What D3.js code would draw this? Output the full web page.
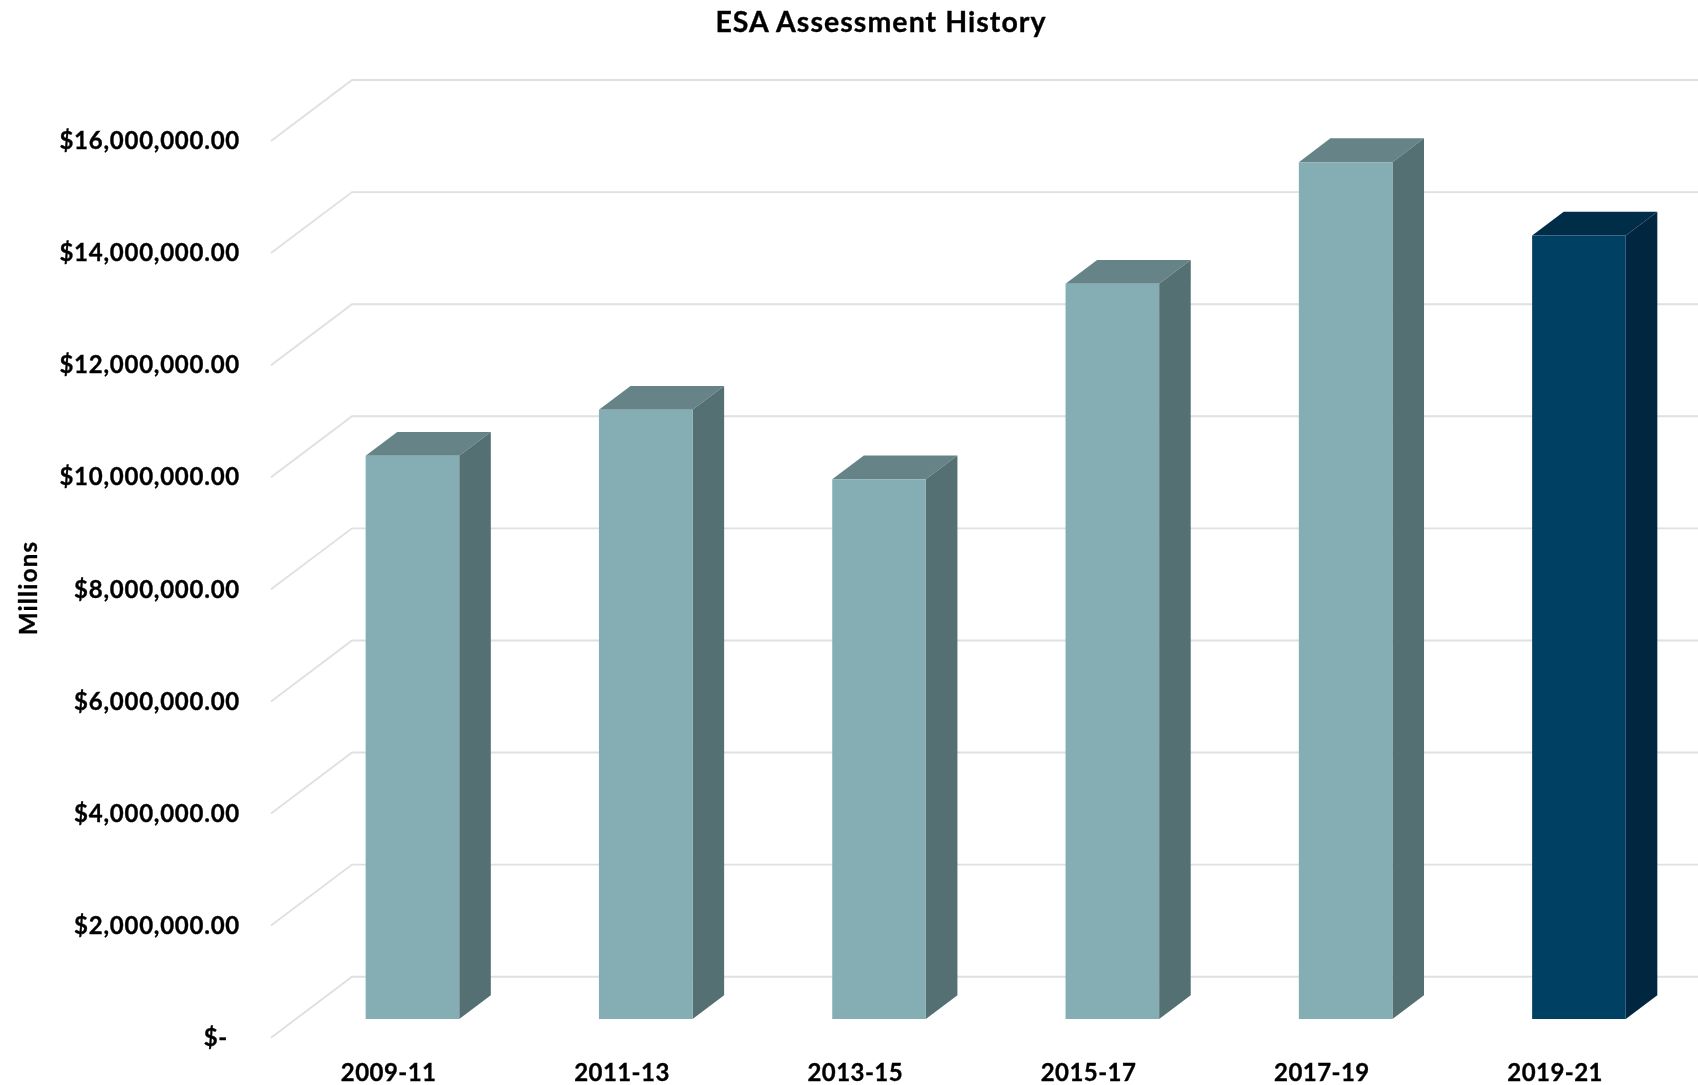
<!DOCTYPE html>
<html><head><meta charset="utf-8">
<script src="https://cdn.jsdelivr.net/npm/d3@7"></script>
<style>html,body{margin:0;background:#fff}svg{display:block}text{font-family:Lato,sans-serif;font-weight:700;fill:#050505;stroke:#050505;stroke-width:.35px}</style>
</head><body><svg id="c" width="1698" height="1085"></svg>
<script>
const categories = ["2009-11","2011-13","2013-15","2015-17","2017-19","2019-21"];
const values = [10050000,10870000,9630000,13120000,15290000,13980000];
const faceColors = ["#85aeb4","#85aeb4","#85aeb4","#85aeb4","#85aeb4","#023f63"];
const topColors = ["#668387","#668387","#668387","#668387","#668387","#012f4a"];
const sideColors = ["#557073","#557073","#557073","#557073","#557073","#01283f"];
const yTicks = [0,2000000,4000000,6000000,8000000,10000000,12000000,14000000,16000000];
const title = "ESA Assessment History";
const yTitle = "Millions";

const depthX = 81, depthY = 61, barFront = 0.306, barBack = 0.696;
const svg = d3.select("#c");
svg.append("defs").append("filter").attr("id","soft").attr("x","-2%").attr("y","-2%").attr("width","104%").attr("height","104%")
  .append("feGaussianBlur").attr("stdDeviation",0.55);
const root = svg.append("g").attr("filter","url(#soft)");
root.append("rect").attr("width",1698).attr("height",1085).attr("fill","#fff");
const x = d3.scaleBand().domain(categories).range([271, 271+233.3*6]).paddingInner(0).paddingOuter(0);
const y = d3.scaleLinear().domain([0,16000000]).range([1037.7,141]);
const barW = 93.6;
const proj = (px,py,d)=>[px+depthX*d, py-depthY*d];

// walls
const grid = root.append("g").attr("fill","none").attr("stroke","#e0e0e0").attr("stroke-width",1.9);
yTicks.forEach(v=>{
  const a=[x.range()[0],y(v)], b=proj(a[0],a[1],1);
  grid.append("path").attr("d",d3.line()([a,b,[1720,b[1]]]));
});

// bars
const bars = root.append("g").selectAll("g").data(categories).join("g");
bars.each(function(c,i){
  const g=d3.select(this), cx=x(c)+x.bandwidth()/2, l=cx-barW/2, r=cx+barW/2, t=y(values[i]), b=y(0);
  const f=proj;
  const poly=(pts,col)=>g.append("path").attr("d",d3.line()(pts)+"Z").attr("fill",col);
  poly([f(l,t,barFront),f(r,t,barFront),f(r,t,barBack),f(l,t,barBack)],topColors[i]);
  poly([f(r,t,barFront),f(r,b,barFront),f(r,b,barBack),f(r,t,barBack)],sideColors[i]);
  poly([f(l,t,barFront),f(r,t,barFront),f(r,b,barFront),f(l,b,barFront)],faceColors[i]);
});

// axes
const fmt=v=>v===0?"$-":"$"+d3.format(",.2f")(v);
const ya=root.append("g").attr("transform","translate(240,0)")
  .call(d3.axisLeft(y).tickValues(yTicks).tickFormat(fmt).tickSize(0).tickPadding(0));
ya.select(".domain").remove();
ya.selectAll("text").attr("font-size",24).style("font-family","Lato").style("letter-spacing","0.75px").attr("dx",d=>d===0?-12:0);
const xa=root.append("g").attr("transform","translate(1,1071.5)")
  .call(d3.axisBottom(x).tickSize(0).tickPadding(0));
xa.select(".domain").remove();
xa.selectAll("text").attr("font-size",24).style("font-family","Lato").style("letter-spacing","0.45px").attr("dy",0).attr("dominant-baseline","central");

root.append("text").attr("x",881).attr("y",20.5).attr("text-anchor","middle").attr("dominant-baseline","central").attr("font-size",28.5).style("letter-spacing","1.05px").text(title);
root.append("text").attr("transform","translate(27,588) rotate(-90)").attr("text-anchor","middle").attr("dominant-baseline","central").attr("font-size",24).style("letter-spacing","1.25px").text(yTitle);
</script></body></html>
